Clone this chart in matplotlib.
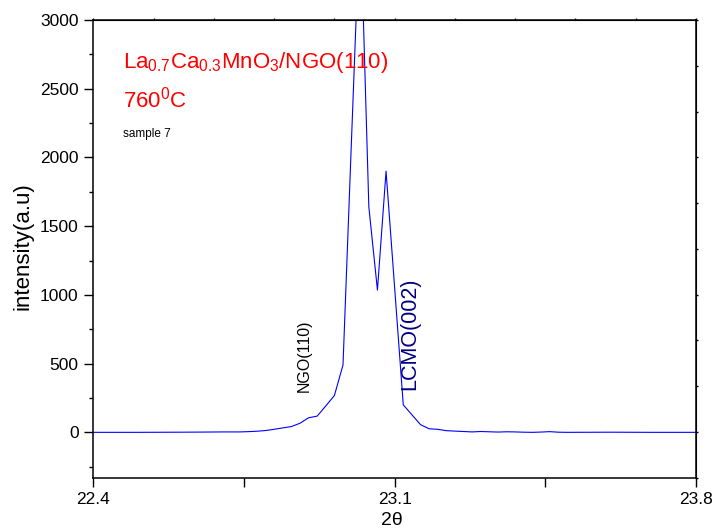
import numpy as np
import matplotlib
matplotlib.use('Agg')
import matplotlib.pyplot as plt

plt.rcParams['font.family'] = ['Liberation Sans', 'DejaVu Sans']
plt.rcParams['mathtext.fontset'] = 'custom'
plt.rcParams['mathtext.rm'] = 'Liberation Sans'
plt.rcParams['mathtext.it'] = 'Liberation Sans:italic'
plt.rcParams['mathtext.bf'] = 'Liberation Sans:bold'

"""XRD scan around the LCMO(002) / NGO(110) reflections"""

two_theta = [22.40, 22.50, 22.60, 22.66, 22.70, 22.74, 22.76, 22.78, 22.80,
             22.82, 22.84, 22.86, 22.88, 22.90, 22.92, 22.94, 22.96, 22.98,
             23.00, 23.02, 23.04, 23.06, 23.08, 23.10, 23.12, 23.14, 23.16,
             23.18, 23.20, 23.22, 23.24, 23.26, 23.28, 23.30, 23.32, 23.34,
             23.36, 23.38, 23.40, 23.42, 23.44, 23.46, 23.48, 23.50, 23.60,
             23.70, 23.80]
intensity = [0, 0, 1, 2, 3, 3, 5, 8, 13,
             22, 32, 42, 66, 106, 118, 192, 268, 490,
             2150, 3800, 1640, 1035, 1900, 1050, 200, 128, 56,
             26, 22, 12, 9, 6, 3, 6, 4, 2,
             4, 3, 1, 0, 2, 5, 1, 0, 1,
             0, 0]

x_ticks = [22.4, 22.75, 23.1, 23.45, 23.8]
x_labels = ['22.4', '', '23.1', '', '23.8']
y_ticks = [0, 500, 1000, 1500, 2000, 2500, 3000]

fig = plt.figure(figsize=(7.14, 5.31), dpi=100)
ax = fig.add_axes([0.1307, 0.1004, 0.8441, 0.8619])

ax.plot(two_theta, intensity, color='#0000ff', linewidth=0.8)

ax.set_xlim(22.4, 23.8)
ax.set_ylim(-330, 3000)

ax.set_xticks(x_ticks)
ax.set_xticklabels(x_labels)
ax.set_yticks(y_ticks)
ax.set_yticks([-250, 250, 750, 1250, 1750, 2250, 2750], minor=True)

ax.tick_params(axis='both', which='major', direction='out', length=6.5,
               width=1.0, labelsize=12.5, pad=4, top=False, right=False)
ax.tick_params(axis='y', which='minor', direction='out', length=3, width=1.0)
ax.tick_params(axis='x', which='minor', bottom=False)
for s in ax.spines.values():
    s.set_linewidth(1.1)

# tiny ticks on the top and right frame (10 divisions)
top = ax.secondary_xaxis('top')
top.set_xticks(np.linspace(22.4, 23.8, 11))
top.tick_params(direction='out', length=1.5, width=1.0, labeltop=False)
right = ax.secondary_yaxis('right')
right.set_yticks(np.linspace(-330, 3000, 11))
right.tick_params(direction='out', length=1.5, width=1.0, labelright=False)

ax.set_ylabel('intensity(a.u)', fontsize=16)
ax.yaxis.set_label_coords(-0.10, 0.506)
ax.set_xlabel('2θ', fontsize=14)
ax.xaxis.set_label_coords(0.4956, -0.075)

red = '#ff0000'
ax.text(0.049, 0.895, 'La$_{0.7}$Ca$_{0.3}$MnO$_3$/NGO(110)', color=red,
        fontsize=16, transform=ax.transAxes, va='baseline')
ax.text(0.049, 0.808, '760$^0$C', color=red, fontsize=16,
        transform=ax.transAxes, va='baseline')
ax.text(0.049, 0.744, 'sample 7', color='black', fontsize=8.5,
        transform=ax.transAxes, va='baseline')

ax.text(22.889, 293, 'NGO(110)', rotation=90, fontsize=11.5, color='black',
        ha='center', va='bottom')
ax.text(23.135, 307, 'LCMO(002)', rotation=90, fontsize=15.5, color='#000080',
        ha='center', va='bottom')

fig.savefig('out.png', dpi=100)
